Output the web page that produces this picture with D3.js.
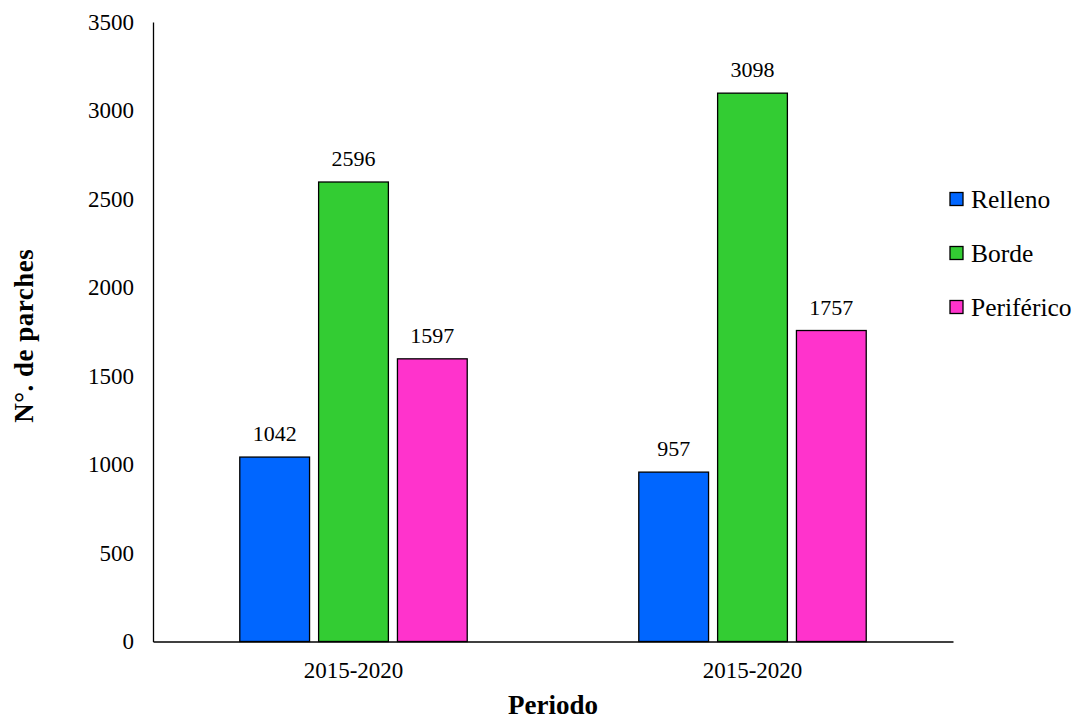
<!DOCTYPE html>
<html>
<head>
<meta charset="utf-8">
<script src="https://cdn.jsdelivr.net/npm/d3@7"></script>
<style>
  html, body { margin: 0; padding: 0; background: #fff; }
  svg text { font-family: "Times New Roman", "Liberation Serif", "DejaVu Serif", serif !important; }
</style>
</head>
<body>
<svg id="chart" width="1078" height="721"></svg>
<script>
// Period labels (both groups carry the same label)
const periods = ["2015-2020", "2015-2020"];
const seriesNames = ["Relleno", "Borde", "Periférico"];
const seriesColors = ["#0066FF", "#33CC33", "#FF33CC"];
const relleno = [1042, 957];
const borde = [2596, 3098];
const periferico = [1597, 1757];
const yTicks = [0, 500, 1000, 1500, 2000, 2500, 3000, 3500];

const seriesValues = [relleno, borde, periferico];

const svg = d3.select("#chart");
const margin = { left: 153, right: 125, top: 22, bottom: 80 };
const W = 1078, H = 721;

const x0 = d3.scaleBand()
  .domain(periods.map((d, i) => i))
  .range([margin.left, W - margin.right])
  .paddingInner(0.43)
  .paddingOuter(0.2175);

const x1 = d3.scaleBand()
  .domain(seriesNames)
  .range([0, x0.bandwidth()])
  .paddingInner(0.115)
  .paddingOuter(0);

const y = d3.scaleLinear()
  .domain([0, 3500])
  .range([H - margin.bottom + 0.5, margin.top]);

// Y axis
const yAxis = d3.axisLeft(y).tickValues(yTicks).tickSize(0).tickPadding(19).tickFormat(d3.format("d"));
const gy = svg.append("g").attr("transform", `translate(${margin.left},0)`).call(yAxis);
gy.attr("font-family", null);
gy.select(".domain").attr("stroke", "#000").attr("stroke-width", 1.3);
gy.selectAll("text").attr("font-size", 23).attr("fill", "#000");

// Bars
const groups = svg.append("g").selectAll("g")
  .data(periods.map((p, i) => i))
  .join("g")
  .attr("transform", i => `translate(${x0(i)},0)`);

groups.selectAll("rect")
  .data(i => seriesNames.map((s, k) => ({ s, k, v: seriesValues[k][i] })))
  .join("rect")
  .attr("x", d => x1(d.s))
  .attr("y", d => y(d.v))
  .attr("width", x1.bandwidth())
  .attr("height", d => y(0) - y(d.v))
  .attr("fill", d => seriesColors[d.k])
  .attr("stroke", "#000")
  .attr("stroke-width", 1.3);

groups.selectAll("text.val")
  .data(i => seriesNames.map((s, k) => ({ s, k, v: seriesValues[k][i] })))
  .join("text")
  .attr("class", "val")
  .attr("x", d => x1(d.s) + x1.bandwidth() / 2)
  .attr("y", d => y(d.v) - 16)
  .attr("text-anchor", "middle")
  .attr("font-size", 22)
  .attr("fill", "#000")
  .text(d => d.v);

// X axis
const xAxis = d3.axisBottom(x0).tickSize(0).tickPadding(20).tickFormat(i => periods[i]);
const gx = svg.append("g").attr("transform", `translate(0,${y(0)})`).call(xAxis);
gx.attr("font-family", null);
gx.select(".domain").attr("stroke", "#000").attr("stroke-width", 1.3);
gx.selectAll("text").attr("font-size", 23).attr("fill", "#000");

// Axis titles
svg.append("text")
  .attr("x", 553)
  .attr("y", 714)
  .attr("text-anchor", "middle")
  .attr("font-size", 27)
  .attr("font-weight", "bold")
  .text("Periodo");

svg.append("text")
  .attr("transform", `translate(33,${(margin.top + y(0)) / 2 + 4}) rotate(-90)`)
  .attr("text-anchor", "middle")
  .attr("font-size", 27)
  .attr("font-weight", "bold")
  .attr("letter-spacing", 0.5)
  .text("N°. de parches");

// Legend
const legend = svg.append("g").attr("transform", "translate(950,199)");
const li = legend.selectAll("g").data(seriesNames).join("g")
  .attr("transform", (d, i) => `translate(0,${i * 54})`);
li.append("rect")
  .attr("x", 0).attr("y", -6.5)
  .attr("width", 13).attr("height", 13)
  .attr("fill", (d, i) => seriesColors[i])
  .attr("stroke", "#000").attr("stroke-width", 1.3);
li.append("text")
  .attr("x", 21).attr("y", 8.5)
  .attr("font-size", 25.5)
  .attr("fill", "#000")
  .text(d => d);
</script>
</body>
</html>
